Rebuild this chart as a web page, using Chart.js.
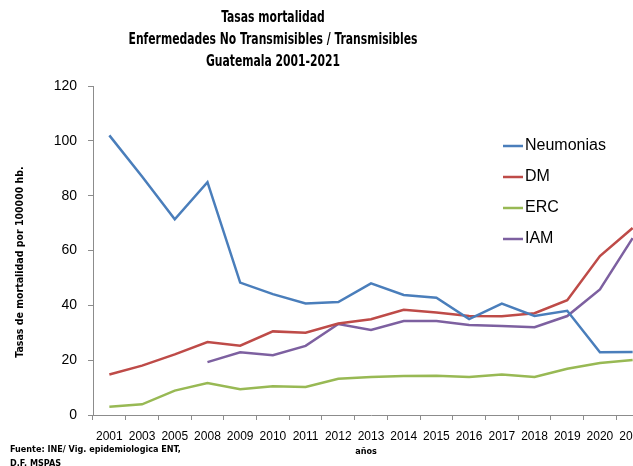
<!DOCTYPE html>
<html lang="es">
<head>
  <meta charset="UTF-8" />
  <title>Tasas mortalidad Guatemala 2001-2021</title>
  <script src="https://cdn.jsdelivr.net/npm/chart.js"></script>
  <style>
    html, body {
      margin: 0;
      padding: 0;
      background: #ffffff;
      overflow: hidden;
    }
    .wrap {
      width: 660px;
      height: 466px;
    }
  </style>
</head>
<body>
  <div class="wrap">
    <canvas id="chart" width="660" height="466"></canvas>
  </div>

  <script>
    // data
    const years = ['2001', '2003', '2005', '2008', '2009', '2010', '2011', '2012', '2013',
                   '2014', '2015', '2016', '2017', '2018', '2019', '2020', '2021'];
    const neumonias = [102, 87, 71.4, 84.9, 48.3, 44.1, 40.7, 41.2, 48.0, 43.8, 42.8, 35.0, 40.6, 36.1, 38.0, 22.9, 23.0];
    const dm = [14.8, 18.0, 22.1, 26.6, 25.3, 30.5, 30.0, 33.4, 34.9, 38.4, 37.4, 36.1, 36.0, 37.1, 41.9, 58.0, 68.2];
    const erc = [3.0, 3.9, 8.9, 11.7, 9.4, 10.5, 10.2, 13.2, 13.9, 14.2, 14.3, 13.9, 14.8, 13.9, 16.9, 19.0, 20.1];
    const iam = [null, null, null, 19.3, 22.9, 21.8, 25.2, 33.2, 31.0, 34.3, 34.3, 32.8, 32.5, 32.0, 36.1, 45.8, 64.5];
    const yTicks = [0, 20, 40, 60, 80, 100, 120];

    const titleLines = ['Tasas mortalidad', 'Enfermedades No Transmisibles / Transmisibles', 'Guatemala 2001-2021'];
    const yTitle = 'Tasas de mortalidad por 100000 hb.';
    const xTitle = 'años';
    const axisColor = '#8c8c8c';
    const narrow = '"DejaVu Sans Condensed", sans-serif';

    // title, axis titles, in-plot legend and source note
    const decorations = {
      id: 'decorations',
      afterDraw(chart) {
        const ctx = chart.ctx;
        ctx.save();
        ctx.fillStyle = '#000';
        ctx.textAlign = 'center';
        ctx.textBaseline = 'middle';

        // Calibri-like narrow title
        ctx.save();
        ctx.font = 'bold 16px ' + narrow;
        ctx.scale(0.75, 1);
        titleLines.forEach((t, i) => ctx.fillText(t, 273 / 0.75, 18 + i * 22));
        ctx.restore();

        ctx.save();
        ctx.translate(20, 262);
        ctx.rotate(-Math.PI / 2);
        ctx.font = 'bold 10.5px ' + narrow;
        ctx.fillText(yTitle, 0, 0);
        ctx.restore();

        ctx.font = 'bold 9px ' + narrow;
        ctx.fillText(xTitle, 366, 452);

        // legend inside the plot
        chart.data.datasets.forEach((ds, i) => {
          const y = 146 + i * 31;
          ctx.strokeStyle = ds.borderColor;
          ctx.lineWidth = 2.5;
          ctx.beginPath();
          ctx.moveTo(503, y);
          ctx.lineTo(523, y);
          ctx.stroke();
          ctx.fillStyle = '#000';
          ctx.textAlign = 'left';
          ctx.font = '16px "Liberation Sans", Arial, sans-serif';
          ctx.fillText(ds.label, 525, y);
        });

        ctx.textAlign = 'left';
        ctx.font = 'bold 9px ' + narrow;
        ctx.fillText('Fuente: INE/ Vig. epidemiologica ENT,', 10, 450);
        ctx.fillText('D.F. MSPAS', 10, 464);
        ctx.restore();
      }
    };

    const mkSet = (label, data, color) => ({
      label: label,
      data: data,
      borderColor: color,
      backgroundColor: color,
      borderWidth: 2.5,
      pointRadius: 0,
      tension: 0,
      spanGaps: false
    });

    new Chart(document.getElementById('chart'), {
      type: 'line',
      data: {
        labels: years,
        datasets: [
          mkSet('Neumonias', neumonias, '#4a7ebb'),
          mkSet('DM', dm, '#be4b48'),
          mkSet('ERC', erc, '#98b954'),
          mkSet('IAM', iam, '#7d60a0')
        ]
      },
      plugins: [decorations],
      options: {
        responsive: false,
        animation: false,
        layout: { padding: { top: 86, right: 11, left: 0, bottom: 0 } },
        plugins: {
          legend: { display: false },
          tooltip: { enabled: false },
          title: { display: false }
        },
        scales: {
          x: {
            offset: true,
            grid: {
              offset: true,
              drawOnChartArea: false,
              color: axisColor,
              tickLength: 5
            },
            border: { color: axisColor },
            ticks: {
              autoSkip: false,
              maxRotation: 0,
              color: '#000',
              padding: 9,
              font: { size: 12, family: '"Liberation Sans", Arial, sans-serif' }
            },
            afterFit(scale) { scale.height = 51; }
          },
          y: {
            min: 0,
            max: 120,
            afterBuildTicks(scale) { scale.ticks = yTicks.map(v => ({ value: v })); },
            grid: {
              drawOnChartArea: false,
              color: axisColor,
              tickLength: 5
            },
            border: { color: axisColor },
            ticks: {
              color: '#000',
              padding: 11,
              font: { size: 14, family: '"Liberation Sans", Arial, sans-serif' }
            },
            afterFit(scale) { scale.width = 93; }
          }
        }
      }
    });
  </script>
</body>
</html>
